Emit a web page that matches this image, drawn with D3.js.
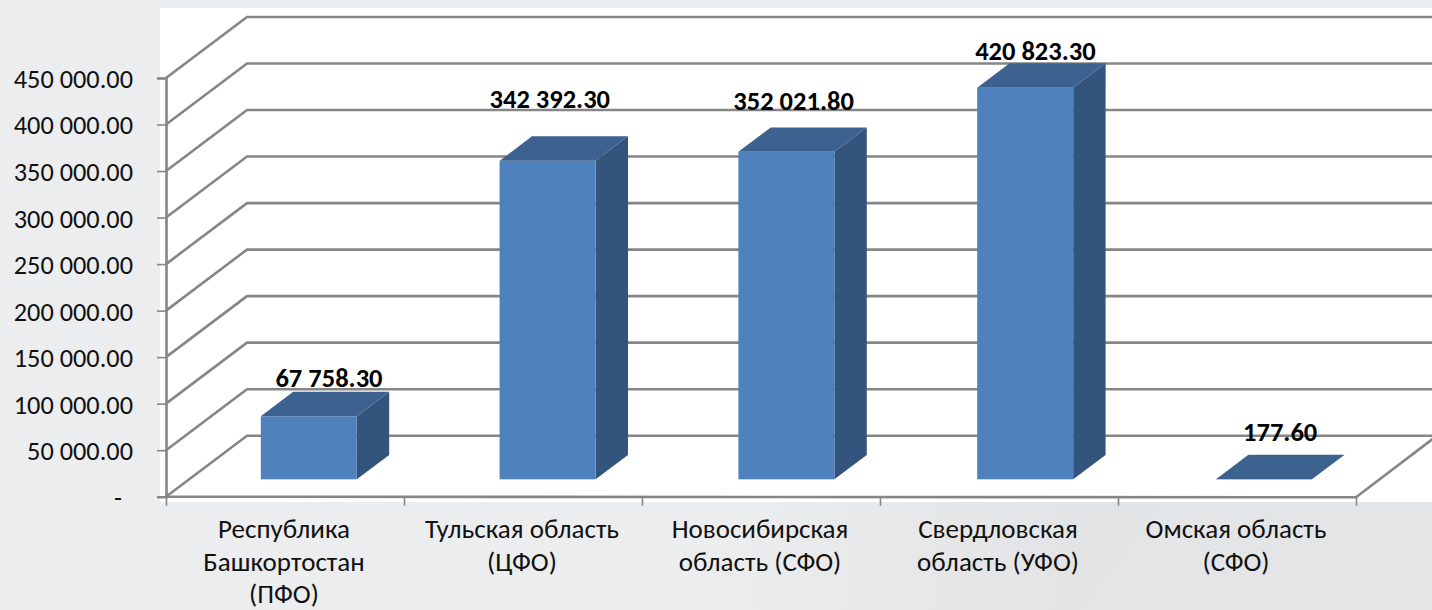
<!DOCTYPE html>
<html><head><meta charset="utf-8">
<script src="https://cdn.jsdelivr.net/npm/d3@7"></script>
<style>html,body{margin:0;padding:0;background:#ecedef;overflow:hidden}svg{display:block}text{font-family:Carlito,Calibri,Lato,"Open Sans",sans-serif;fill:#111}</style>
</head><body><svg id="c" width="1432" height="610"></svg>
<script>
const categories=[["Республика","Башкортостан","(ПФО)"],["Тульская область","(ЦФО)"],["Новосибирская","область (СФО)"],["Свердловская","область (УФО)"],["Омская область","(СФО)"]];
const values=[67758.3,342392.3,352021.8,420823.3,177.6];
const valueLabels=["67 758.30","342 392.30","352 021.80","420 823.30","177.60"];
const yTicks=[0,50000,100000,150000,200000,250000,300000,350000,400000,450000];
const labelDx=[4,-14,-9,-6,0];
const labelDy=[-5,-28,-17,-3,-14];
const svg=d3.select("#c");
const W=1432,H=610;
const Dx=81,Dy=-61;
const y=d3.scaleLinear().domain([0,450000]).range([496.7,78]);
const x=d3.scaleBand().domain(d3.range(categories.length)).range([165.5,1359.5]);
const defs=svg.append("defs");
const lg=defs.append("linearGradient").attr("id","bg").attr("gradientUnits","userSpaceOnUse").attr("x1",700).attr("y1",0).attr("x2",1100).attr("y2",0);
lg.append("stop").attr("offset",0).attr("stop-color","#ecedef");
lg.append("stop").attr("offset",1).attr("stop-color","#e2e3e5");
svg.append("rect").attr("width",W).attr("height",H).attr("fill","#ecedef");
svg.append("path").attr("d","M786 502L665 610L1432 610L1432 502Z").attr("fill","url(#bg)");
svg.append("path").attr("d","M1162 502L1078 610L1432 610L1432 502Z").attr("fill","#e4e5e7");
svg.append("rect").attr("x",160).attr("y",8).attr("width",W-160).attr("height",494).attr("fill","#fff");
const grid="#868686";
const g=svg.append("g");
g.selectAll("path.grid").data(yTicks).join("path").attr("class","grid")
 .attr("fill","none").attr("stroke",grid).attr("stroke-width",2.6)
 .attr("d",d=>`M166,${y(d)}L${166+Dx},${y(d)+Dy}L${W+5},${y(d)+Dy}`);
g.append("path").attr("fill","none").attr("stroke",grid).attr("stroke-width",2.6)
 .attr("d",`M166,${y(0)}L1356,${y(0)+0.6}L${1356+Dx},${y(0)+Dy}`);
const ya=d3.axisLeft(y).tickValues(yTicks).tickSize(9)
 .tickFormat(d=>d===0?"-":d3.format(",.2f")(d).replace(/,/g," "));
const yg=svg.append("g").attr("transform","translate(166,0)").call(ya);
yg.selectAll("path").attr("stroke",grid).attr("stroke-width",2.6);
yg.selectAll("line").attr("stroke",grid).attr("stroke-width",1.6);
yg.selectAll("text").attr("font-size",26.3).attr("font-family",null).attr("fill","#111").attr("x",d=>d===0?-44:-33).attr("dy","0.36em");
const xt=d3.scaleLinear().domain([0,5]).range([166,1356]);
const xa=d3.axisBottom(xt).tickValues(d3.range(6)).tickSize(9).tickFormat("");
const xg=svg.append("g").attr("transform",`translate(0,${y(0)})`).call(xa);
xg.select("path").remove();
xg.selectAll("line").attr("stroke",grid).attr("stroke-width",1.6);
const depthX=0.295,depthY=0.285,depthBar=0.4,barW=96;
const bars=svg.append("g").selectAll("g").data(values).join("g");
bars.each(function(v,i){
 const s=d3.select(this);
 const left=x(i)+(x.bandwidth()-barW)/2;
 const fx=left+Dx*depthX, fy0=y(0)+Dy*depthY, fy1=y(v)+Dy*depthY;
 const bdx=Dx*depthBar, bdy=Dy*depthBar;
 s.append("path").attr("fill","#33557d").attr("d",`M${fx+barW},${fy0}L${fx+barW+bdx},${fy0+bdy}L${fx+barW+bdx},${fy1+bdy}L${fx+barW},${fy1}Z`);
 s.append("rect").attr("x",fx).attr("y",fy1).attr("width",barW).attr("height",Math.max(0,fy0-fy1)).attr("fill","#4f81bd");
 s.append("path").attr("fill","#3d628f").attr("d",`M${fx},${fy1}L${fx+barW},${fy1}L${fx+barW+bdx},${fy1+bdy}L${fx+bdx},${fy1+bdy}Z`);
 s.append("text").attr("x",fx+barW/2+bdx/2+labelDx[i]).attr("y",fy1+bdy+labelDy[i]).attr("text-anchor","middle").attr("font-size",26.5).attr("font-weight",700).style("fill","#000").text(valueLabels[i]);
});
svg.append("g").selectAll("text").data(categories).join("text")
 .attr("text-anchor","middle").attr("font-size",27)
 .attr("transform",(d,i)=>`translate(${xt(i+0.5)-1},0)`)
 .each(function(d){d3.select(this).selectAll("tspan").data(d).join("tspan").attr("x",0).attr("y",(t,k)=>538+k*32.5).text(t=>t);});
</script></body></html>
